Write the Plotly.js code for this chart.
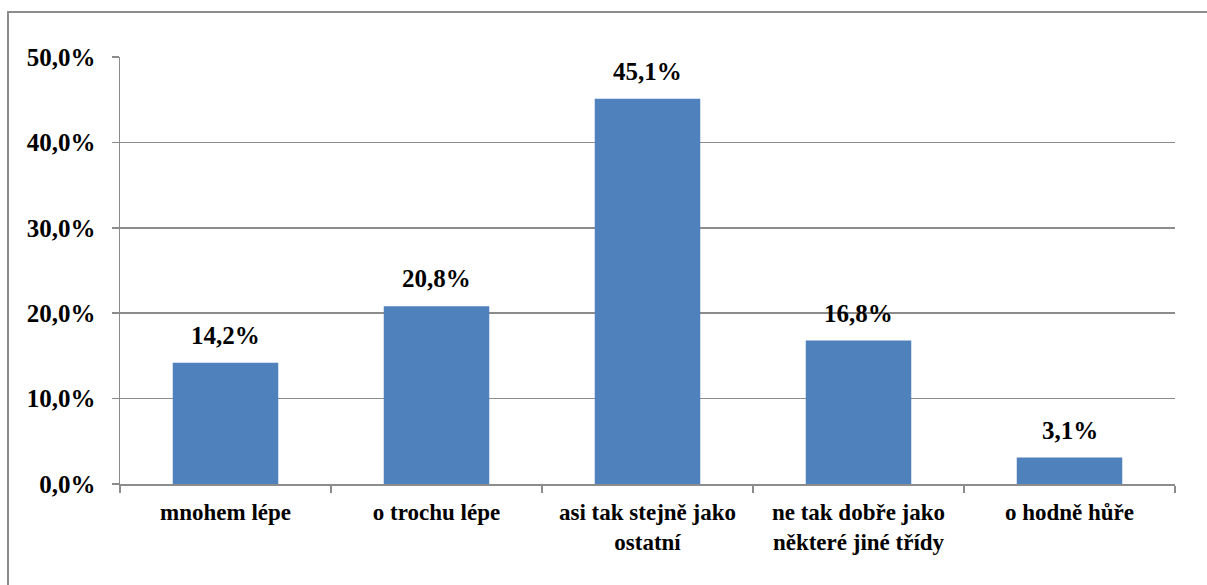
<!DOCTYPE html>
<html>
<head>
<meta charset="utf-8">
<script src="https://cdn.plot.ly/plotly-3.0.1.min.js"></script>
<style>
  html, body { margin: 0; padding: 0; background: #ffffff; overflow: hidden; }
  #wrap { position: relative; width: 1207px; height: 585px; }
  #chart { position: absolute; left: 0; top: 0; width: 1207px; height: 585px; }
  /* outer chart frame: only its left and top edges fall inside the page */
  #frame {
    position: absolute; left: 7px; top: 11px; width: 1300px; height: 700px;
    border-left: 2px solid #8c8c8c; border-top: 2px solid #8c8c8c;
    pointer-events: none;
  }
</style>
</head>
<body>
<div id="wrap">
  <div id="chart"></div>
  <div id="frame"></div>
</div>
<script>
// Answer categories (x axis)
const categories = [
  "mnohem lépe",
  "o trochu lépe",
  "asi tak stejně jako<br>ostatní",
  "ne tak dobře jako<br>některé jiné třídy",
  "o hodně hůře"
];

// Share of answers, in percent
const shares = [14.2, 20.8, 45.1, 16.8, 3.1];

// Y axis tick values
const yTicks = [0, 10, 20, 30, 40, 50];

const fontFamily = 'Liberation Serif';
const gridGrey = '#8c8c8c';

function pct(v) {
  return v.toFixed(1).replace('.', ',') + '%';
}

const bars = {
  type: 'bar',
  x: categories,
  y: shares,
  marker: { color: '#4F81BD', line: { width: 0 } },
  hoverinfo: 'skip'
};

// Value labels above each bar
const labels = categories.map((c, i) => ({
  x: c,
  y: shares[i],
  xref: 'x',
  yref: 'y',
  text: '<b>' + pct(shares[i]) + '</b>',
  showarrow: false,
  yanchor: 'bottom',
  yshift: 12,
  font: { family: fontFamily, size: 25, color: '#000000' }
}));

const layout = {
  width: 1207,
  height: 585,
  margin: { l: 120, r: 32, t: 57, b: 101, pad: 0 },
  paper_bgcolor: '#ffffff',
  plot_bgcolor: '#ffffff',
  showlegend: false,
  bargap: 0.5,
  font: { family: fontFamily, color: '#000000' },
  xaxis: {
    type: 'category',
    tickson: 'boundaries',
    ticks: 'outside',
    ticklen: 7,
    tickwidth: 1.5,
    tickcolor: gridGrey,
    showline: true,
    linecolor: gridGrey,
    linewidth: 1.5,
    showgrid: false,
    ticklabelstandoff: 7,
    tickfont: { family: fontFamily, size: 23, color: '#000000', weight: 'bold' },
    fixedrange: true
  },
  yaxis: {
    range: [0, 50],
    tickmode: 'array',
    tickvals: yTicks,
    ticktext: yTicks.map(pct),
    ticks: 'outside',
    ticklen: 7,
    tickwidth: 1.5,
    tickcolor: gridGrey,
    showline: true,
    linecolor: gridGrey,
    linewidth: 1.5,
    showgrid: true,
    gridcolor: gridGrey,
    gridwidth: 1.5,
    zeroline: false,
    ticklabelstandoff: 11,
    tickfont: { family: fontFamily, size: 25, color: '#000000', weight: 'bold' },
    fixedrange: true
  },
  annotations: labels
};

Plotly.newPlot('chart', [bars], layout, { displayModeBar: false, staticPlot: true });
</script>
</body>
</html>
